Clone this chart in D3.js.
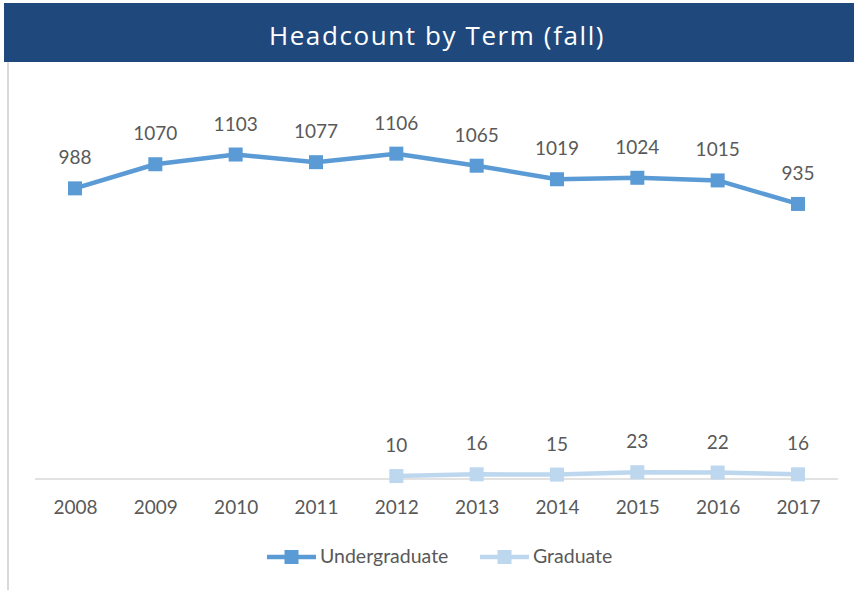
<!DOCTYPE html>
<html>
<head>
<meta charset="utf-8">
<script src="https://cdn.jsdelivr.net/npm/d3@7/dist/d3.min.js"></script>
<style>
html,body{margin:0;padding:0;background:#fff;}
svg{display:block;}
</style>
</head>
<body>
<svg id="chart" width="854" height="590"></svg>
<script>
const years = ["2008","2009","2010","2011","2012","2013","2014","2015","2016","2017"];
const undergraduate = [988,1070,1103,1077,1106,1065,1019,1024,1015,935];
const graduate = [null,null,null,null,10,16,15,23,22,16];
const seriesNames = ["Undergraduate","Graduate"];
const title = "Headcount by Term (fall)";

const svg = d3.select("#chart");
const W = 854, H = 590;
const colors = {Undergraduate:"#5B9BD5", Graduate:"#BDD7EE"};
const font = "Lato, 'Open Sans', sans-serif";

// title bar
svg.append("rect").attr("x",4).attr("y",3).attr("width",W-4).attr("height",59).attr("fill","#1F497D");
svg.append("text").attr("x",437).attr("y",38).attr("text-anchor","middle").attr("dominant-baseline","middle")
  .attr("fill","#fff").attr("font-family","'Open Sans', sans-serif").attr("font-size",26)
  .attr("letter-spacing",1.6).text(title);
// left border
svg.append("line").attr("x1",8).attr("x2",8).attr("y1",62).attr("y2",H).attr("stroke","#d9d9d9").attr("stroke-width",2);

const x = d3.scalePoint().domain(years).range([75,798]);
const y = d3.scaleLinear().domain([0,1200]).range([479,126]);

// axis
const xAxis = d3.axisBottom(x).tickSize(0).tickPadding(22);
const gx = svg.append("g").attr("transform","translate(0,479)").call(xAxis);
gx.select(".domain").remove();
gx.selectAll("text").attr("font-family",font).attr("font-size",19).attr("fill","#595959");
svg.append("line").attr("x1",35).attr("x2",838).attr("y1",y(0)).attr("y2",y(0)).attr("stroke","#d9d9d9").attr("stroke-width",1.5);

function drawSeries(vals, name){
  const pts = years.map((yr,i)=>({yr, v: vals[i]})).filter(d=>d.v!=null);
  const line = d3.line().x(d=>x(d.yr)).y(d=>y(d.v));
  svg.append("path").datum(pts).attr("d",line).attr("fill","none")
    .attr("stroke",colors[name]).attr("stroke-width",4.5).attr("stroke-linejoin","round");
  svg.selectAll(null).data(pts).enter().append("rect")
    .attr("x",d=>x(d.yr)-7).attr("y",d=>y(d.v)-7).attr("width",14).attr("height",14)
    .attr("fill",colors[name]);
  svg.selectAll(null).data(pts).enter().append("text")
    .attr("x",d=>x(d.yr)).attr("y",d=>y(d.v)-24)
    .attr("text-anchor","middle").attr("font-family",font).attr("font-size",19).attr("fill","#595959")
    .text(d=>d.v);
}
drawSeries(undergraduate,"Undergraduate");
drawSeries(graduate,"Graduate");

// legend
const legendX = [267,480];
seriesNames.forEach((name,i)=>{
  const g = svg.append("g").attr("transform",`translate(${legendX[i]},557)`);
  g.append("line").attr("x1",0).attr("x2",49).attr("y1",0).attr("y2",0).attr("stroke",colors[name]).attr("stroke-width",4.5);
  g.append("rect").attr("x",17.5).attr("y",-7).attr("width",14).attr("height",14).attr("fill",colors[name]);
  g.append("text").attr("x",53).attr("y",1).attr("dominant-baseline","middle")
    .attr("font-family",font).attr("font-size",19.5).attr("fill","#595959").text(name);
});
</script>
</body>
</html>
